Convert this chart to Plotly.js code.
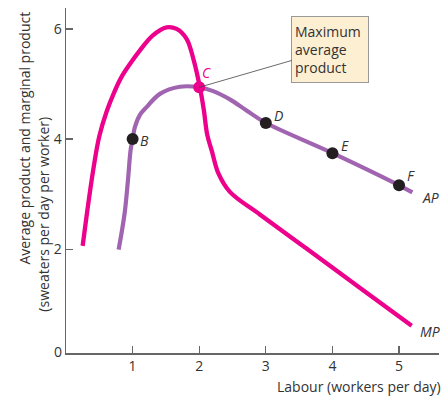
<!DOCTYPE html>
<html><head><meta charset="utf-8">
<script src="https://cdn.plot.ly/plotly-3.0.1.min.js"></script>
<style>html,body{margin:0;padding:0;background:#fff}</style>
</head><body><div id="chart" style="width:448px;height:406px"></div>
<script>
// Marginal product curve (sweaters per day per worker)
const mpLabour = [0.25, 0.32, 0.41, 0.50, 0.61, 0.72, 0.83, 0.97, 1.11, 1.30, 1.51, 1.66, 1.81, 1.92, 2.01, 2.07, 2.12, 2.19, 2.29, 2.46, 2.91, 3.6, 4.4, 5.19];
const mpValues = [2.06, 2.70, 3.45, 4.05, 4.50, 4.84, 5.12, 5.38, 5.61, 5.88, 6.03, 6.00, 5.82, 5.42, 4.94, 4.52, 4.08, 3.78, 3.37, 3.04, 2.63, 2.02, 1.31, 0.61];
// Average product curve
const apLabour = [0.79, 0.88, 0.93, 0.97, 1.0, 1.035, 1.11, 1.21, 1.41, 1.71, 2.0, 2.21, 2.46, 2.71, 2.99, 4.01, 5.0, 5.2];
const apValues = [1.99, 2.65, 3.25, 3.80, 4.0, 4.22, 4.44, 4.58, 4.82, 4.95, 4.94, 4.87, 4.72, 4.52, 4.30, 3.74, 3.16, 3.03];
// Labelled points
const pointLabels = ["B", "D", "E", "F"];
const pointLabour = [1, 3, 4, 5];
const pointValues = [4.0, 4.29, 3.74, 3.16];
const cLabour = 2, cValue = 4.94;
const xTicks = [1, 2, 3, 4, 5];
const yTicks = [2, 4, 6];

const MAG = "#EC008C", PUR = "#A064B0", DOT = "#231F20", AX = "#666666", TXT = "#333333";
const FONT = "'Open Sans', sans-serif";

const traces = [
  {x: mpLabour, y: mpValues, mode: "lines", line: {color: MAG, width: 4.3, shape: "spline", smoothing: 1}, hoverinfo: "skip"},
  {x: apLabour, y: apValues, mode: "lines", line: {color: PUR, width: 4.2, shape: "spline", smoothing: 1}, hoverinfo: "skip"},
  {x: pointLabour, y: pointValues, mode: "markers", marker: {color: DOT, size: 12}, hoverinfo: "skip"},
  {x: [cLabour], y: [cValue], mode: "markers", marker: {color: MAG, size: 12}, hoverinfo: "skip"}
];

const labelShifts = {B: [12, -1], D: [13, 8], E: [13, 8], F: [12, 10]};
const ann = pointLabels.map((t, i) => ({
  x: pointLabour[i], y: pointValues[i], text: t, showarrow: false,
  xshift: labelShifts[t][0], yshift: labelShifts[t][1],
  font: {family: FONT, size: 14, color: TXT, style: "italic"}
}));
ann.push({x: cLabour, y: cValue, text: "C", showarrow: false, xshift: 7, yshift: 15,
  font: {family: FONT, size: 14, color: MAG, style: "italic"}});
ann.push({x: apLabour[apLabour.length-1], y: apValues[apValues.length-1], text: "AP", showarrow: false, xshift: 18, yshift: -5,
  font: {family: FONT, size: 14, color: TXT, style: "italic"}});
ann.push({x: mpLabour[mpLabour.length-1], y: mpValues[mpValues.length-1], text: "MP", showarrow: false, xshift: 18, yshift: -6,
  font: {family: FONT, size: 14, color: TXT, style: "italic"}});
ann.push({x: cLabour, y: cValue, text: "Maximum<br>average<br>product", showarrow: true, arrowhead: 0,
  arrowwidth: 0.8, arrowcolor: "#444", ax: 131, ay: -38, align: "left", valign: "middle",
  width: 70, height: 59, borderpad: 3, borderwidth: 1, bordercolor: "#999", bgcolor: "#FDEFD2",
  font: {family: FONT, size: 14, color: TXT}});
// axis titles and origin label
ann.push({xref: "paper", yref: "paper", x: 1.0, y: 0, xanchor: "right", yanchor: "middle", yshift: -33, xshift: 4,
  text: "Labour (workers per day)", showarrow: false, font: {family: FONT, size: 14, color: TXT}});
ann.push({xref: "paper", yref: "paper", x: 0, y: 0, xshift: -14, yshift: -10, text: "0", showarrow: false,
  font: {family: FONT, size: 14, color: TXT}});
ann.push({xref: "paper", yref: "paper", x: -0.142, y: 0.623, textangle: -90, text: "Average product and marginal product",
  showarrow: false, font: {family: FONT, size: 14, color: TXT}});
ann.push({xref: "paper", yref: "paper", x: -0.092, y: 0.69, textangle: -90, text: "(sweaters per day per worker)",
  showarrow: false, font: {family: FONT, size: 14, color: TXT}});

const layout = {
  width: 448, height: 406, margin: {l: 66, r: 9, t: 8, b: 53},
  paper_bgcolor: "#fff", plot_bgcolor: "#fff", showlegend: false,
  font: {family: FONT, size: 14, color: TXT},
  xaxis: {range: [0, 5.6], tickvals: xTicks, ticks: "inside", ticklen: 7, tickcolor: AX, tickwidth: 1.2,
    showline: true, linecolor: AX, linewidth: 1.5, showgrid: false, zeroline: false, fixedrange: true},
  yaxis: {range: [0.114, 6.38], tickvals: yTicks, ticks: "inside", ticklen: 7, tickcolor: AX, tickwidth: 1.2,
    showline: true, linecolor: AX, linewidth: 1.5, showgrid: false, zeroline: false, fixedrange: true},
  annotations: ann
};
Plotly.newPlot("chart", traces, layout, {staticPlot: true, displayModeBar: false});
</script></body></html>
